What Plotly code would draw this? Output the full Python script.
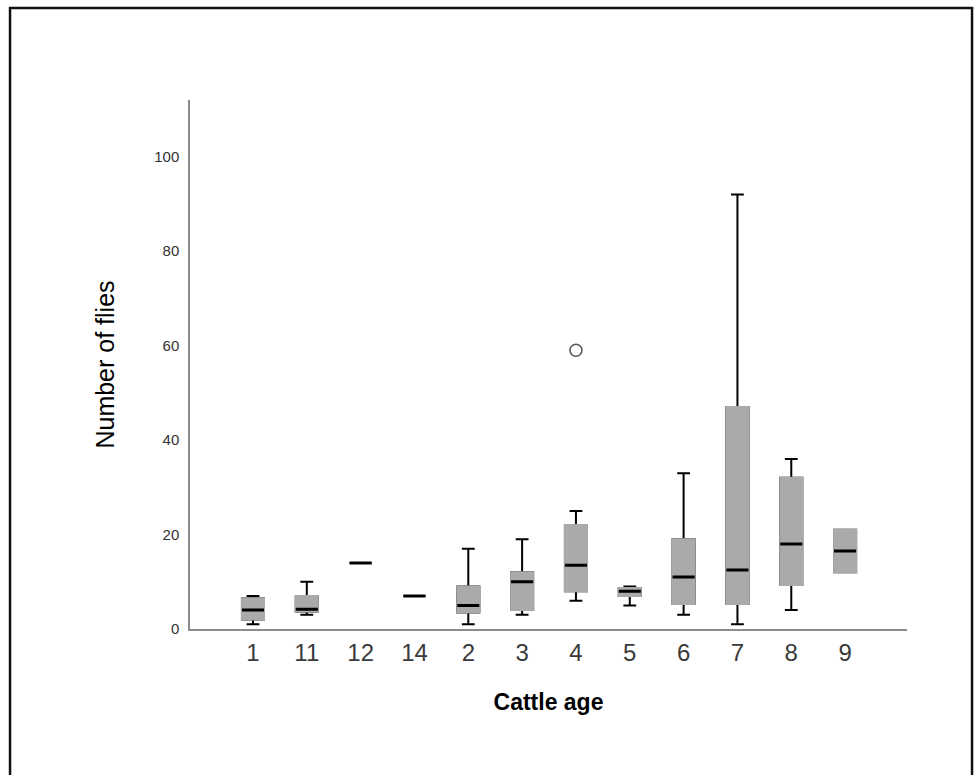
import plotly.graph_objects as go

# ---- data ----
categories = ["1", "11", "12", "14", "2", "3", "4", "5", "6", "7", "8", "9"]
minimum = [1, 3, 14, 7, 1, 3, 6, 5, 3, 1, 4, 12]
q1 = [2, 3.7, 14, 7, 3.5, 4, 8, 7, 5.3, 5.3, 9.3, 12]
median = [4, 4.2, 14, 7, 5, 10, 13.5, 8, 11, 12.5, 18, 16.5]
q3 = [6.5, 7, 14, 7, 9, 12, 22, 8.7, 19, 47, 32, 21]
maximum = [7, 10, 14, 7, 17, 19, 25, 9, 33, 92, 36, 21]
outlier_cat = ["4"]
outlier_val = [59]
y_ticks = [0, 20, 40, 60, 80, 100]

GREY = "#aaaaaa"
BOXW = 0.41
FONT = "Arial, Liberation Sans, sans-serif"

fig = go.Figure()

# whiskers + caps (black)
fig.add_trace(go.Box(
    x=categories, q1=q1, median=median, q3=q3,
    lowerfence=minimum, upperfence=maximum,
    width=BOXW, whiskerwidth=0.58,
    line=dict(color="black", width=2), fillcolor=GREY,
    showlegend=False, hoverinfo="skip", boxpoints=False,
))
# grey box body covering the black outline
fig.add_trace(go.Box(
    x=categories, q1=q1, median=q1, q3=q3,
    lowerfence=q1, upperfence=q3,
    width=BOXW, whiskerwidth=0.58,
    line=dict(color=GREY, width=2), fillcolor=GREY,
    showlegend=False, hoverinfo="skip", boxpoints=False,
))
# black median lines
fig.add_trace(go.Box(
    x=categories, q1=median, median=median, q3=median,
    lowerfence=median, upperfence=median,
    width=BOXW, whiskerwidth=0.58,
    line=dict(color="black", width=3), fillcolor="black",
    showlegend=False, hoverinfo="skip", boxpoints=False,
))
# outlier
fig.add_trace(go.Scatter(
    x=outlier_cat, y=outlier_val, mode="markers",
    marker=dict(symbol="circle-open", size=12, color="#555555", line=dict(width=1.5)),
    showlegend=False, hoverinfo="skip",
))

fig.update_layout(
    width=974, height=775,
    margin=dict(l=190, r=67, t=100, b=146),
    paper_bgcolor="white", plot_bgcolor="white",
    boxmode="overlay",
    font=dict(family=FONT, color="#333333"),
    shapes=[dict(type="rect", xref="paper", yref="paper",
                 x0=-0.251, x1=1.0907, y0=-0.35, y1=1.1739,
                 line=dict(color="#111111", width=2.5), fillcolor="rgba(0,0,0,0)",
                 layer="below")],
)
fig.update_xaxes(
    type="category", categoryorder="array", categoryarray=categories,
    range=[-1.17, 12.15],
    showline=True, linecolor="#8c8c8c", linewidth=1.5,
    showgrid=False, zeroline=False, ticks="",
    tickfont=dict(size=24, color="#3a3a3a", family=FONT),
    ticklabelstandoff=1,
    title=dict(text="<b>Cattle age</b>", font=dict(size=23, color="black", family=FONT), standoff=29),
)
fig.update_yaxes(
    range=[0, 112], tickvals=y_ticks,
    showline=True, linecolor="#8c8c8c", linewidth=1.5,
    showgrid=False, zeroline=False, ticks="",
    tickfont=dict(size=15, color="#333333", family=FONT),
    ticklabelstandoff=6,
    title=dict(text="Number of flies", font=dict(size=25, color="black", family=FONT), standoff=32),
)

fig.write_html("out.html", config={"displayModeBar": False},
               post_script="document.body.style.margin='0px';")
